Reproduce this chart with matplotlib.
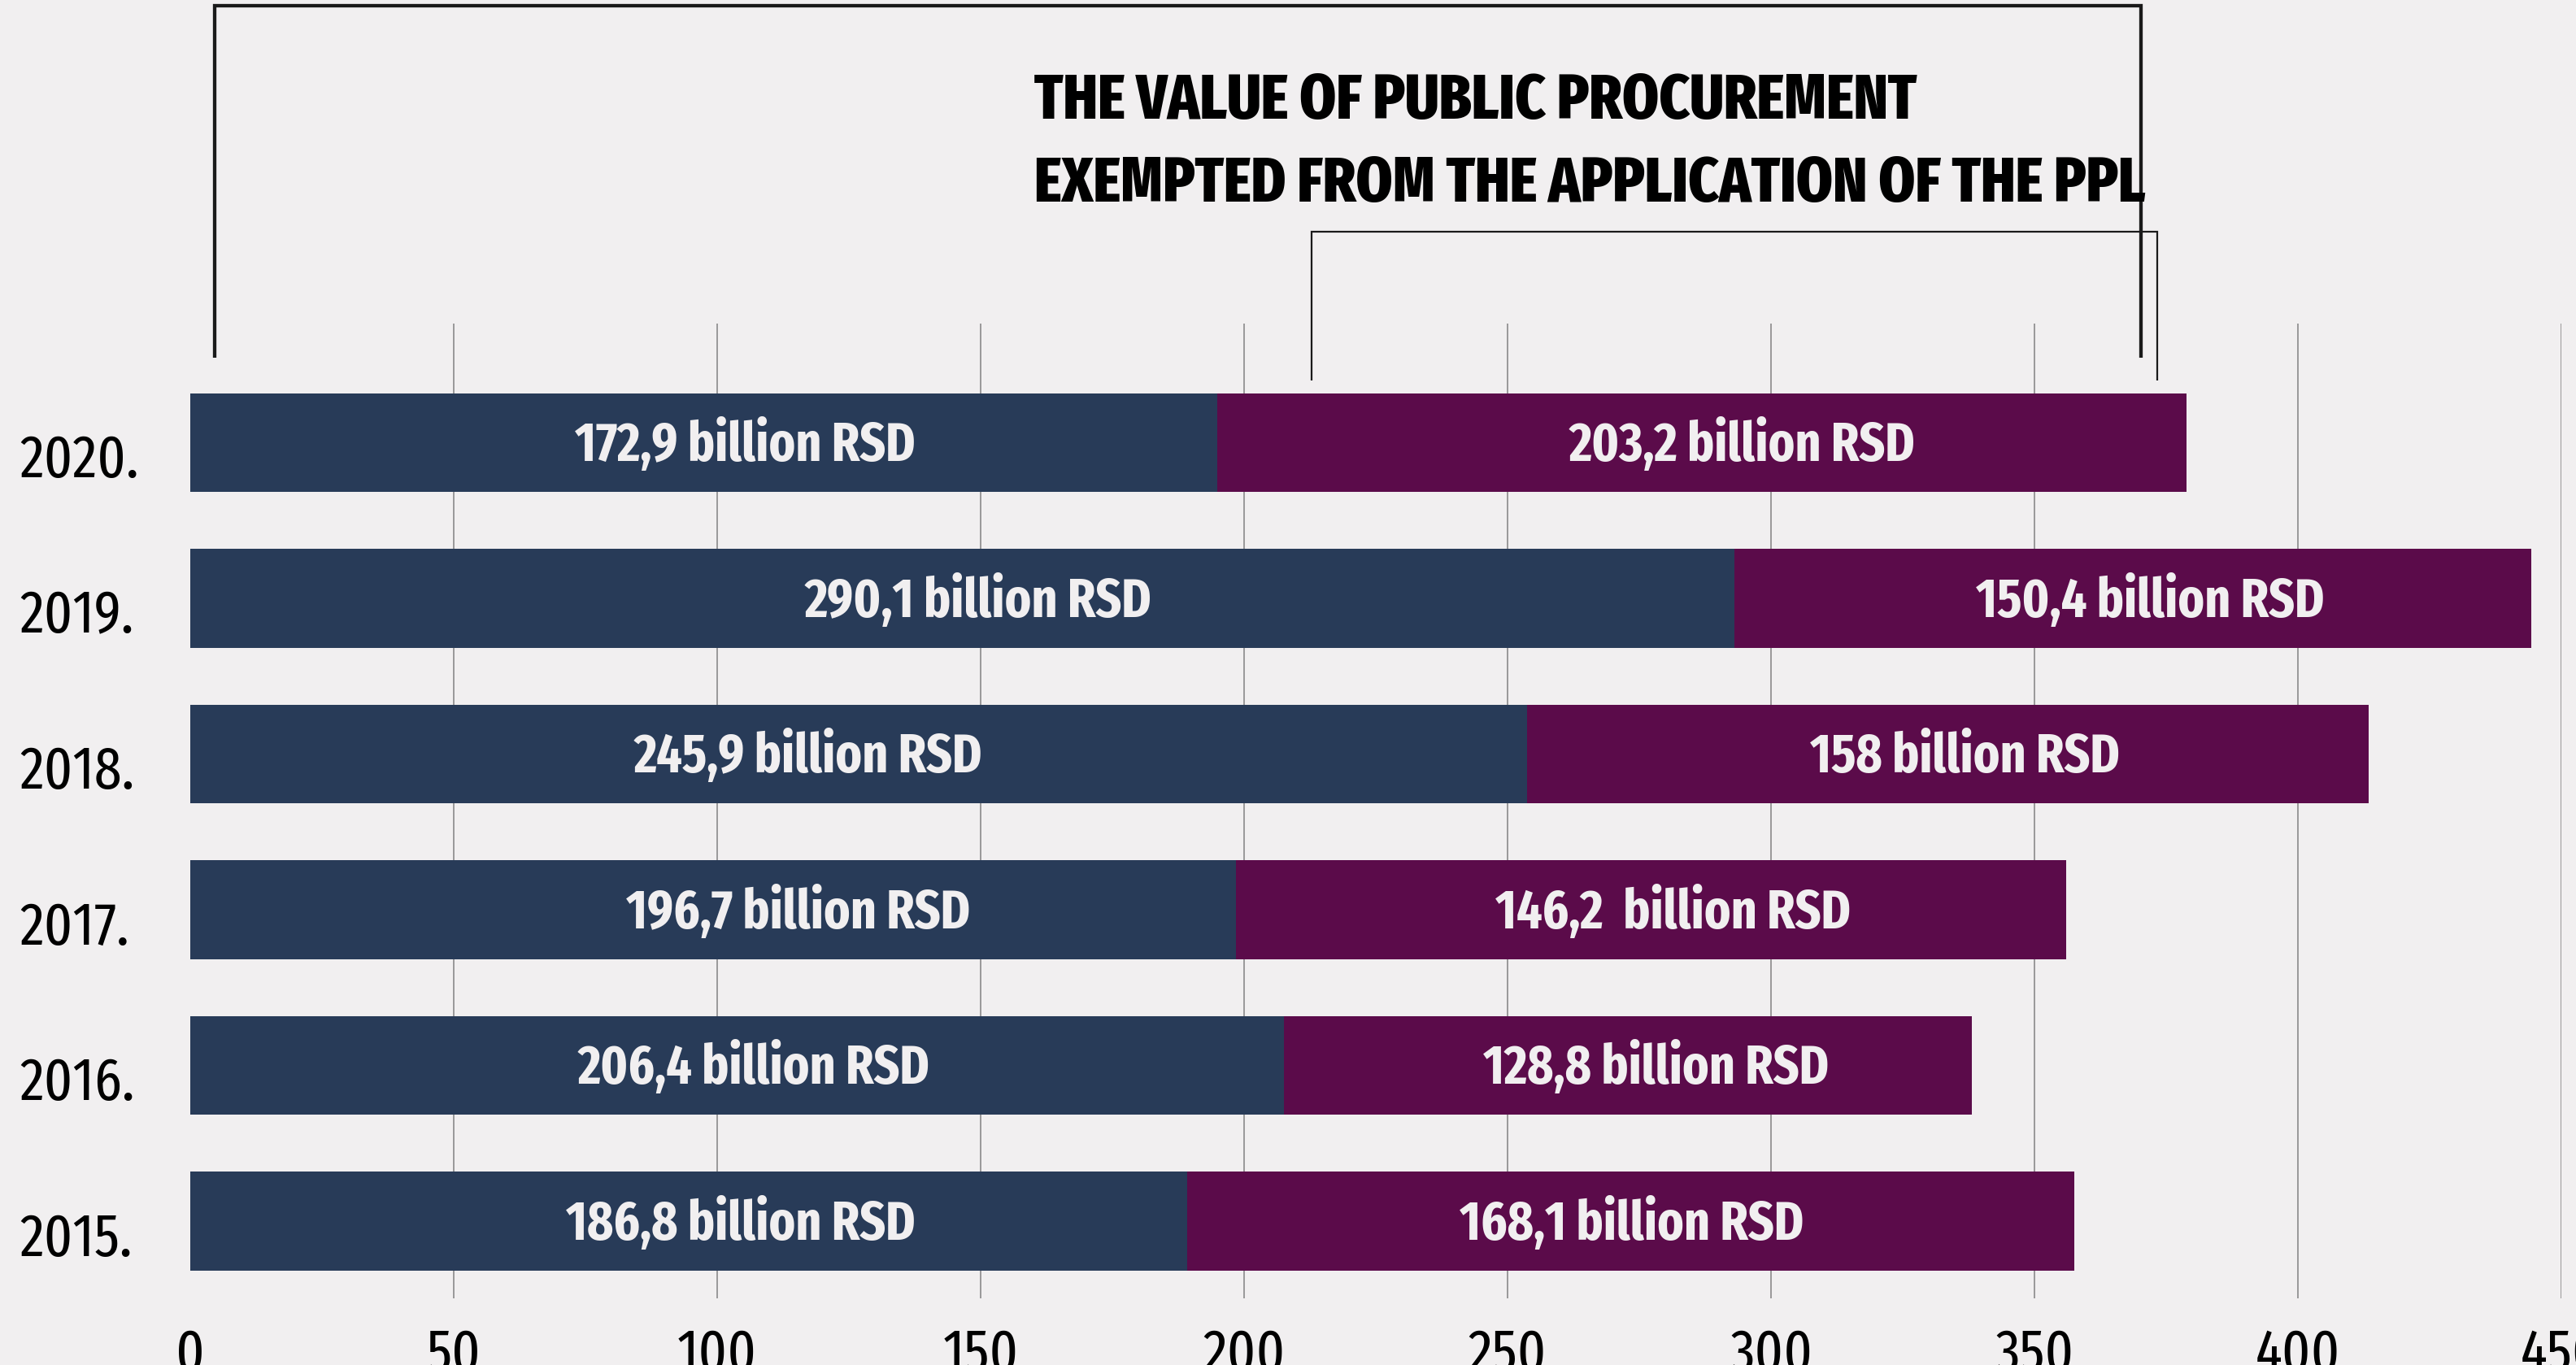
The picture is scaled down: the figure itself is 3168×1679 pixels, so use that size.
import matplotlib
matplotlib.use("Agg")
import matplotlib.pyplot as plt
from matplotlib.lines import Line2D
from matplotlib.transforms import blended_transform_factory

plt.rcParams['font.family'] = ['Fira Sans Extra Condensed', 'DejaVu Sans']

# data (bar lengths as drawn in the picture, labels as printed)
years = ["2015.", "2016.", "2017.", "2018.", "2019.", "2020."]
applied = [189.2, 207.6, 198.5, 253.7, 293.1, 194.9]
exempted = [168.4, 130.5, 157.5, 159.7, 151.2, 184.0]
applied_labels = ["186,8 billion RSD", "206,4 billion RSD", "196,7 billion RSD",
                  "245,9 billion RSD", "290,1 billion RSD", "172,9 billion RSD"]
exempted_labels = ["168,1 billion RSD", "128,8 billion RSD", "146,2  billion RSD",
                   "158 billion RSD", "150,4 billion RSD", "203,2 billion RSD"]
xticks = [0, 50, 100, 150, 200, 250, 300, 350, 400, 450]
title_lines = ["THE VALUE OF PUBLIC PROCUREMENT",
               "EXEMPTED FROM THE APPLICATION OF THE PPL"]

# small hand placed shifts of the value labels (data units)
applied_shift = [9.8, 3.1, 16.1, -9.6, 3.0, 7.9]
exempted_shift = [0.2, 5.4, 4.1, 3.2, 3.2, 7.6]

W, H = 3168, 1679
bg = "#f1eff0"
dark = "#283b58"
purple = "#5b0b4a"
grid_col = "#8a8a8a"


def fx(px):
    return px / W


def fy(py):
    return 1 - py / H


fig = plt.figure(figsize=(W / 100, H / 100), dpi=100, facecolor=bg)
ax = fig.add_axes([fx(234), fy(1597), (3150 - 234) / W, (1597 - 398) / H])
ax.set_facecolor(bg)

y = list(range(len(years)))
ax.barh(y, applied, height=0.632, color=dark, zorder=2)
ax.barh(y, exempted, left=applied, height=0.632, color=purple, zorder=2)

ax.set_xlim(0, 450)
ax.set_ylim(-0.496, 5.765)
ax.set_xticks(xticks)
ax.set_xticklabels([str(t) for t in xticks])
ax.set_yticks([])
ax.tick_params(axis='x', length=0, pad=25, labelsize=53, labelcolor="black")
for s in ax.spines.values():
    s.set_visible(False)
ax.grid(axis='x', color=grid_col, lw=1.2, zorder=0)
ax.set_axisbelow(True)
ax.xaxis.get_major_ticks()[0].gridline.set_visible(False)

# value labels inside the bars
for i in y:
    ax.text(applied[i] / 2 + applied_shift[i], i - 0.12, applied_labels[i],
            ha='center', va='baseline', color=bg, fontsize=48, fontweight='bold', zorder=3)
    ax.text(applied[i] + exempted[i] / 2 + exempted_shift[i], i - 0.12, exempted_labels[i],
            ha='center', va='baseline', color=bg, fontsize=48, fontweight='bold', zorder=3)

# year labels at the left edge
tr = blended_transform_factory(fig.transFigure, ax.transData)
for i in y:
    ax.text(fx(24), i - 0.222, years[i], transform=tr, ha='left', va='baseline',
            fontsize=53, color="black", clip_on=False)

# title
fig.text(fx(1272), fy(146), title_lines[0], ha='left', va='baseline',
         fontsize=56, fontweight=800, color="black")
fig.text(fx(1272), fy(248), title_lines[1], ha='left', va='baseline',
         fontsize=56, fontweight=800, color="black")

# brackets
line_col = "#1a1a1a"
fig.add_artist(Line2D([fx(264), fx(264), fx(2633), fx(2633)],
                      [fy(440), fy(7), fy(7), fy(440)],
                      transform=fig.transFigure, color=line_col, lw=3.1,
                      solid_joinstyle='miter', solid_capstyle='butt'))
fig.add_artist(Line2D([fx(1613), fx(1613), fx(2653), fx(2653)],
                      [fy(468), fy(285), fy(285), fy(468)],
                      transform=fig.transFigure, color=line_col, lw=1.6,
                      solid_joinstyle='miter', solid_capstyle='butt'))

fig.savefig("out.png", dpi=100, facecolor=bg)
